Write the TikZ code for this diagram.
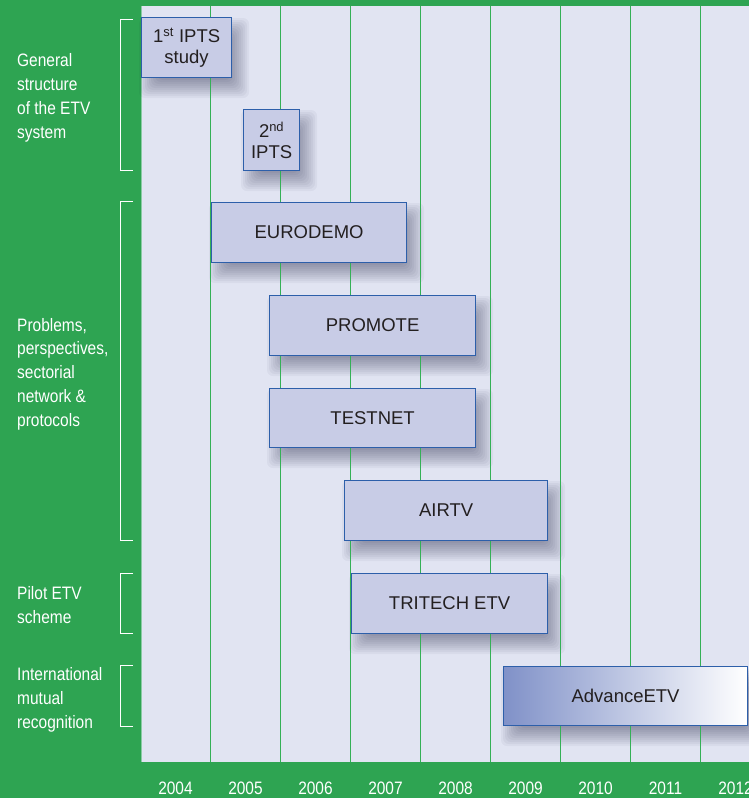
\documentclass[tikz,border=0pt]{standalone}
\usepackage{fontspec}
\setmainfont{Liberation Sans}
\newfontfamily\condfont[FakeStretch=0.86]{Liberation Sans}
\definecolor{bggreen}{RGB}{46,164,82}
\definecolor{panelc}{RGB}{225,228,242}
\definecolor{gridgreen}{RGB}{52,176,86}
\definecolor{boxfill}{RGB}{200,204,230}
\definecolor{boxdraw}{RGB}{45,95,170}
\definecolor{boxtext}{RGB}{35,31,32}
\definecolor{advleft}{RGB}{128,145,200}
% soft drop shadow: stacked translucent rectangles (x, y, width, height)
\newcommand\barshadow[4]{%
  \foreach \k in {0,...,11}{%
    \fill[black!85!blue, opacity=0.04, rounded corners=6pt]
      ({#1+8-10+2*\k},{#2+11-10+2*\k}) rectangle ({#1+8+#3+10-2*\k},{#2+11+#4+10-2*\k});
  }}
\begin{document}
\begin{tikzpicture}[x=1pt,y=-1pt,
  bar/.style={draw=boxdraw, line width=1.2pt, fill=boxfill, anchor=north west,
    inner sep=0pt, align=center, text=boxtext,
    font=\fontsize{18.5}{21}\selectfont},
  lab/.style={anchor=base west, text=white, inner sep=0pt, align=left,
    font=\condfont\fontsize{18}{23.7}\selectfont},
  yr/.style={anchor=base, text=white, inner sep=0pt, font=\condfont\fontsize{18}{22}\selectfont},
  brk/.style={draw=white, line width=1pt},
  grid/.style={draw=gridgreen, line width=1pt}]
\useasboundingbox (0,0) rectangle (749,798);
\fill[bggreen] (0,0) rectangle (749,798);
\fill[panelc] (141,6) rectangle (749,762);
\draw[draw=gridgreen!50!panelc, line width=0.8pt] (141.4,6) -- (141.4,762);

% shadows of the bars (under the grid lines)
\barshadow{141}{17}{90}{60}
\barshadow{243}{109}{56}{61}
\barshadow{211}{202}{195}{60}
\barshadow{269}{295}{206}{60}
\barshadow{269}{388}{206}{59}
\barshadow{344}{480}{203}{60}
\barshadow{351}{573}{196}{60}
\barshadow{503}{666}{244}{59}

\foreach \x in {210,280,...,700} \draw[grid] (\x,6) -- (\x,762);

% brackets
\draw[brk] (133,19) -- (120,19) -- (120,170) -- (133,170);
\draw[brk] (133,201) -- (120,201) -- (120,540) -- (133,540);
\draw[brk] (133,573) -- (120,573) -- (120,633) -- (133,633);
\draw[brk] (133,665) -- (120,665) -- (120,726) -- (133,726);

% labels (anchor = baseline of last line)
\node[lab] (l1) at (17,138) {General\\structure\\of the ETV\\system};
\node[lab] (l2) at (17,426) {Problems,\\perspectives,\\sectorial\\network \&\\protocols};
\node[lab] (l3) at (17,623) {Pilot ETV\\scheme};
\node[lab] (l4) at (17,728) {International\\mutual\\recognition};

% bars
\node[bar, minimum width=90, minimum height=60] (ipts1) at (141,17) {1\textsuperscript{st} IPTS\\study};
\node[bar, minimum width=56, minimum height=61] (ipts2) at (243,109) {2\textsuperscript{nd}\\IPTS};
\node[bar, minimum width=195, minimum height=60] (eurodemo) at (211,202) {EURODEMO};
\node[bar, minimum width=206, minimum height=60] (promote) at (269,295) {PROMOTE};
\node[bar, minimum width=206, minimum height=59] (testnet) at (269,388) {TESTNET};
\node[bar, minimum width=203, minimum height=60] (airtv) at (344,480) {AIRTV};
\node[bar, minimum width=196, minimum height=60] (tritech) at (351,573) {TRITECH ETV};
\node[bar, minimum width=244, minimum height=59, left color=advleft, right color=white] (advance) at (503,666) {AdvanceETV};

% years
\foreach \y [count=\i from 0] in {2004,2005,2006,2007,2008,2009,2010,2011,2012}
  \node[yr] (y\y) at (175.5+70*\i,794.5) {\y};
\end{tikzpicture}
\end{document}
